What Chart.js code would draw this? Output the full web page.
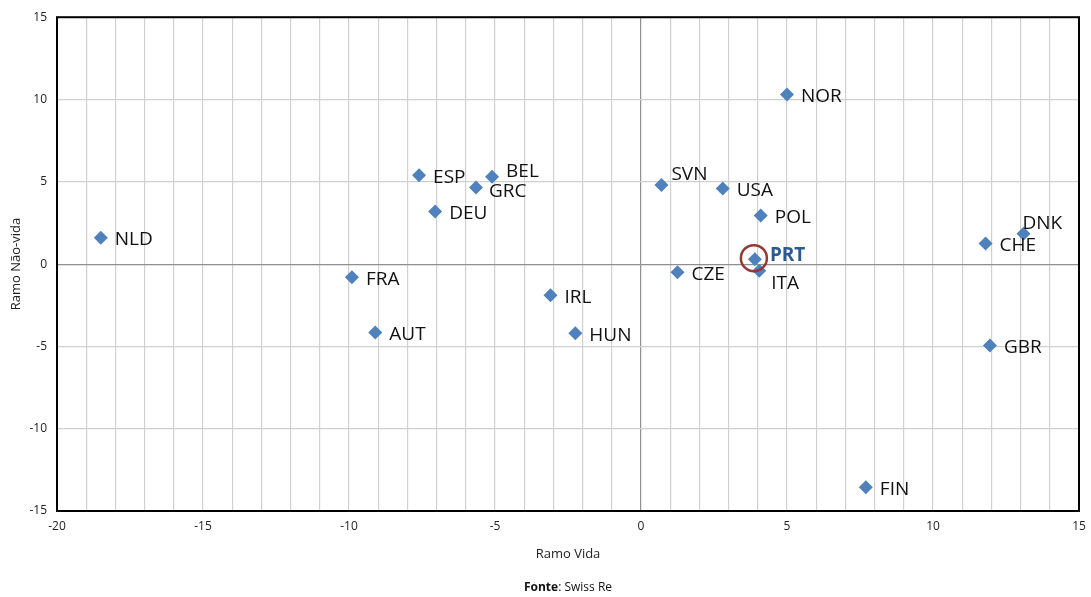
<!DOCTYPE html>
<html>
<head>
<meta charset="utf-8">
<script src="https://cdn.jsdelivr.net/npm/chart.js@4.4.1/dist/chart.umd.min.js"></script>
<style>
  html, body { margin: 0; padding: 0; background: #fff; }
  #wrap { position: relative; width: 1091px; height: 597px; }
</style>
</head>
<body>
<div id="wrap"><canvas id="grafico"></canvas></div>
<script>
// Países e variação nos dois ramos
const paises  = ['NLD', 'FRA', 'AUT', 'ESP', 'DEU', 'GRC', 'BEL', 'IRL', 'HUN', 'SVN', 'CZE', 'USA', 'POL', 'PRT', 'ITA', 'NOR', 'FIN', 'CHE', 'DNK', 'GBR'];
const ramoVida    = [-18.5, -9.9, -9.1, -7.6, -7.05, -5.65, -5.1, -3.1, -2.25, 0.7, 1.25, 2.8, 4.1, 3.9, 4.05, 5.0, 7.7, 11.8, 13.1, 11.95];
const ramoNaoVida = [1.6, -0.8, -4.15, 5.4, 3.2, 4.65, 5.3, -1.9, -4.2, 4.8, -0.5, 4.6, 2.95, 0.3, -0.4, 10.3, -13.55, 1.25, 1.85, -4.95];
const destaque = 'PRT';

const ticksX = [-20, -15, -10, -5, 0, 5, 10, 15];
const ticksY = [-15, -10, -5, 0, 5, 10, 15];

Chart.defaults.font.family = '"Open Sans", sans-serif';
Chart.defaults.color = '#222';

// deslocamento dos rótulos em relação ao ponto (px)
const offsetRotulo = {
    BEL: [14, -5], GRC: [13, 4], SVN: [10, -10], PRT: [15, -4],
    ITA: [12, 13], DNK: [-1, -10]
};

const rotulosPlugin = {
    id: 'rotulos',
    beforeDatasetsDraw(chart) {
        const { ctx, chartArea: a } = chart;
        ctx.save();
        ctx.strokeStyle = '#000';
        ctx.lineWidth = 2;
        ctx.strokeRect(a.left, a.top, a.right - a.left, a.bottom - a.top);
        ctx.restore();
    },
    afterDatasetsDraw(chart) {
        const { ctx } = chart;
        const meta = chart.getDatasetMeta(0);
        ctx.save();
        ctx.textBaseline = 'middle';
        ctx.textAlign = 'left';
        meta.data.forEach((pt, i) => {
            const nome = paises[i];
            const off = offsetRotulo[nome] || [14, 2];
            if (nome === destaque) {
                ctx.beginPath();
                ctx.arc(pt.x - 1, pt.y - 1, 13, 0, Math.PI * 2);
                ctx.strokeStyle = '#953735';
                ctx.lineWidth = 2.5;
                ctx.stroke();
                ctx.font = 'bold 19px "Open Sans", sans-serif';
                ctx.fillStyle = '#2B5A93';
            } else {
                ctx.font = '19px "Open Sans", sans-serif';
                ctx.fillStyle = '#111';
            }
            ctx.fillText(nome, pt.x + off[0], pt.y + off[1]);
        });
        // fonte
        const a = chart.chartArea;
        const cx = (a.left + a.right) / 2;
        const y = chart.height - 9;
        ctx.fillStyle = '#111';
        ctx.font = 'bold 12px "Open Sans", sans-serif';
        const b = 'Fonte';
        const r = ': Swiss Re';
        const wb = ctx.measureText(b).width;
        ctx.font = '12px "Open Sans", sans-serif';
        const wr = ctx.measureText(r).width;
        const x0 = cx - (wb + wr) / 2;
        ctx.font = 'bold 12px "Open Sans", sans-serif';
        ctx.fillText(b, x0, y);
        ctx.font = '12px "Open Sans", sans-serif';
        ctx.fillText(r, x0 + wb, y);
        ctx.restore();
    }
};

const gridCor = c => c.tick && c.tick.value === 0 ? '#8f8f8f' : '#d0d0d0';

new Chart(document.getElementById('grafico'), {
    type: 'scatter',
    data: {
        datasets: [{
            data: paises.map((p, i) => ({ x: ramoVida[i], y: ramoNaoVida[i] })),
            pointStyle: 'rectRot',
            pointRadius: 7,
            pointHoverRadius: 7,
            backgroundColor: '#4F81BD',
            borderColor: '#4F81BD',
            borderWidth: 0
        }]
    },
    options: {
        responsive: true,
        maintainAspectRatio: false,
        animation: false,
        layout: { padding: { left: 0, right: 12, top: 15, bottom: 31 } },
        plugins: { legend: { display: false }, tooltip: { enabled: false } },
        scales: {
            x: {
                type: 'linear',
                min: ticksX[0],
                max: ticksX[ticksX.length - 1],
                grid: { color: gridCor, lineWidth: 1.2, drawTicks: false },
                border: { display: false },
                ticks: {
                    stepSize: 1,
                    autoSkip: false,
                    maxRotation: 0,
                    padding: 8,
                    font: { size: 12 },
                    callback: v => ticksX.includes(v) ? v : ''
                },
                title: { display: true, text: 'Ramo Vida', font: { size: 13 }, padding: { top: 5, bottom: 4 } },
                afterFit(scale) { scale.paddingRight = 0; scale.paddingLeft = 0; }
            },
            y: {
                type: 'linear',
                min: ticksY[0],
                max: ticksY[ticksY.length - 1],
                grid: { color: gridCor, lineWidth: 1.2, drawTicks: false },
                border: { display: false },
                ticks: {
                    stepSize: 5,
                    padding: 10,
                    font: { size: 12 },
                    callback: v => ticksY.includes(v) ? v : ''
                },
                title: { display: true, text: 'Ramo Não-vida', font: { size: 13 }, padding: { top: 8, bottom: 4 } },
                afterFit(scale) { scale.width = 57; }
            }
        }
    },
    plugins: [rotulosPlugin]
});
</script>
</body>
</html>
